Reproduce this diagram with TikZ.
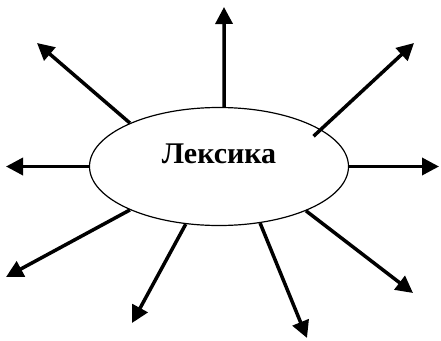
\documentclass[tikz,border=0pt]{standalone}
\usepackage{fontspec}
\setmainfont{Liberation Serif}
\usetikzlibrary{arrows.meta,shapes.geometric}
\begin{document}
\begin{tikzpicture}[x=1pt,y=-1pt,line join=round,>={Triangle[length=17pt,width=17pt]}]
	\tikzset{every node/.style={font=\fontsize{30}{36}\selectfont\bfseries},
		ray/.style={->,line width=3.5pt},
		lexbox/.style={draw,ellipse,line width=1.2pt,minimum width=259pt,minimum height=118pt,inner sep=0pt}}
	\useasboundingbox (0,0) rectangle (441,340);
	\node[lexbox] (lex) at (219,166.5) {};
	\node (title) at ([yshift=13pt]lex.center) {Лексика};
	% free ends of the rays
	\coordinate (tN) at (224,7);
	\coordinate (tNW) at (37,43);
	\coordinate (tNE) at (414,43);
	\coordinate (tW) at (6,166.5);
	\coordinate (tE) at (439,166.5);
	\coordinate (tSW) at (6,277);
	\coordinate (tSSW) at (132,323);
	\coordinate (tSSE) at (307,338);
	\coordinate (tSE) at (413,293);
		\draw[ray] (lex.85)--(tN);
		\draw[ray] (lex.154)--(tNW);
		\draw[ray,shorten <=-10pt] (lex.20)--(tNE);
		\draw[ray] (lex.west)--(tW);
		\draw[ray] (lex.east)--(tE);
		\draw[ray] (lex.206)--(tSW);
		\draw[ray] (lex.240)--(tSSW);
		\draw[ray] (lex.306)--(tSSE);
		\draw[ray] (lex.333)--(tSE);
\end{tikzpicture}
\end{document}
